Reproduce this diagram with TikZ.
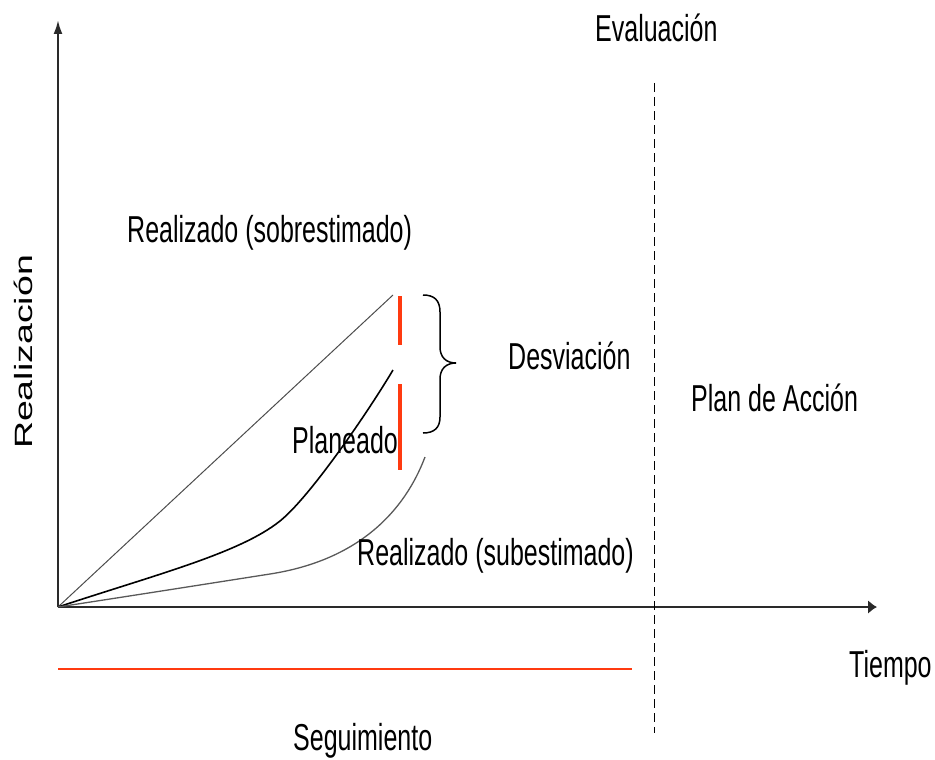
\documentclass[tikz,border=0pt]{standalone}
\usepackage{fontspec}
\setmainfont{Liberation Sans}
\usetikzlibrary{arrows.meta}
\newcommand\stt[1]{\scalebox{1}[1.5]{#1}}
\definecolor{axisgray}{HTML}{2A2A2A}
\definecolor{redbar}{HTML}{FF3A10}
\tikzset{
  lbl/.style={font=\fontsize{25}{30}\selectfont, inner sep=0pt, anchor=base west},
  axisline/.style={draw=axisgray, line width=2.2pt},
  thinline/.style={draw=black!70, line width=1pt},
  thickline/.style={draw=black, line width=1.6pt},
  dotline/.style={draw=black!65, line width=1.3pt},
  redline/.style={draw=redbar, line width=4.5pt},
}
\begin{document}
\begin{tikzpicture}[x=1pt,y=-1pt]
\useasboundingbox (0,0) rectangle (935,760);
% axes
\coordinate (O) at (58,607);
\coordinate (ytop) at (58,20);
\coordinate (xend) at (877,607);
\draw[axisline, -{Latex[length=14pt,width=9pt]}] (O) -- (ytop);
\draw[axisline, -{Latex[length=9pt,width=14pt]}] (O) -- (xend);
% dashed evaluation line
\coordinate (dtop) at (654,83);
\coordinate (dbot) at (654,733);
\draw[black, line width=1pt, dash pattern=on 9pt off 5pt] (dtop) -- (dbot);
% red tracking line
\coordinate (sa) at (58,669);
\coordinate (sb) at (632,669);
\draw[redbar, line width=1.3pt] (sa) -- (sb);
% curves
\coordinate (sobreEnd) at (393,295);
\coordinate (planMid) at (280,521);
\coordinate (planEnd) at (393,370);
\coordinate (subMid) at (270,574);
\coordinate (subEnd) at (425,457);
\draw[thinline] (O) -- (sobreEnd);
\draw[thickline] (O) .. controls (158,574) and (240,553) .. (planMid)
                     .. controls (310,497) and (368,412) .. (planEnd);
\draw[dotline] (O) .. controls (130,596) and (210,583.4) .. (subMid)
                   .. controls (360,560) and (405,510) .. (subEnd);
% red bars
\coordinate (r1a) at (400,296);
\coordinate (r1b) at (400,345);
\coordinate (r2a) at (400,384);
\coordinate (r2b) at (400,470);
\draw[redline] (r1a) -- (r1b);
\draw[redline] (r2a) -- (r2b);
% brace
\draw[black, line width=1.5pt] (423,295) .. controls (434,295) and (440,300) .. (440,312) -- (440,347) .. controls (440,357) and (446,363) .. (456,363) .. controls (446,363) and (440,369) .. (440,379) -- (440,417) .. controls (440,428) and (434,433) .. (423,433);
% labels
\node[lbl] (eval) at (595,42) {\stt{Evaluación}};
\node[lbl] (sobre) at (127,242) {\stt{Realizado (sobrestimado)}};
\node[lbl] (plan) at (292,453) {\stt{Planeado}};
\node[lbl] (desv) at (508,369) {\stt{Desviación}};
\node[lbl] (accion) at (691,411) {\stt{Plan de Acción}};
\node[lbl] (sub) at (357,565) {\stt{Realizado (subestimado)}};
\node[lbl] (tiempo) at (849,677) {\stt{Tiempo}};
\node[lbl] (seg) at (293,750) {\stt{Seguimiento}};
\node[font=\fontsize{25}{30}\selectfont, inner sep=0pt, rotate=90, anchor=base] (realiz) at (32,352) {\scalebox{1.5}[1]{Realización}};
\end{tikzpicture}
\end{document}
